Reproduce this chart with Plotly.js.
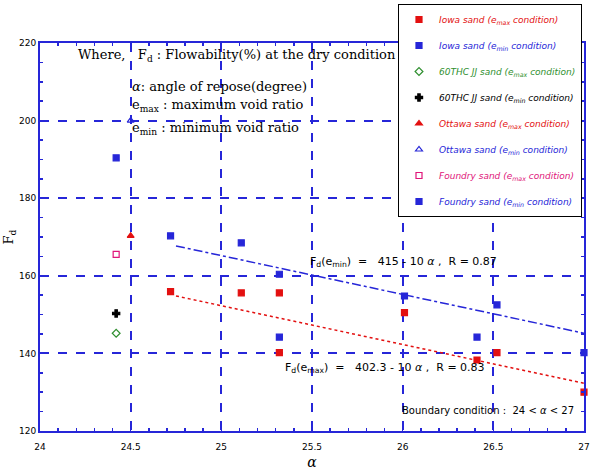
<!DOCTYPE html>
<html><head><meta charset="utf-8">
<script src="https://cdn.plot.ly/plotly-3.0.1.min.js"></script>
<style>body{margin:0;background:#fff}#c{width:595px;height:471px}</style>
</head><body><div id="c"></div>
<script>
// Data
const iowaMaxX = [24.72, 25.11, 25.32, 25.32, 26.01, 26.41, 26.52, 27.0];
const iowaMaxY = [155.9, 155.6, 155.6, 140.2, 150.5, 138.3, 140.2, 130.0];
const iowaMinX = [24.72, 25.11, 25.32, 25.32, 26.01, 26.41, 26.52, 27.0];
const iowaMinY = [170.3, 168.5, 160.4, 144.2, 154.8, 144.2, 152.5, 140.2];
const thcMaxX = [24.42], thcMaxY = [145.2];
const thcMinX = [24.42], thcMinY = [150.3];
const ottMaxX = [24.5], ottMaxY = [170.3];
const ottMinX = [24.5], ottMinY = [200.0];
const fndMaxX = [24.42], fndMaxY = [165.5];
const fndMinX = [24.42], fndMinY = [190.4];
// Fitted lines: [intercept, slope], drawn over fitRange
const fitMax = [402.3, -10];
const fitMin = [415.2, -10];
const fitRange = [24.75, 27.0];
const xTicks = [24, 24.5, 25, 25.5, 26, 26.5, 27];
const yTicks = [120, 140, 160, 180, 200, 220];

const RED = '#e31010', BLUE = '#2626d8', GREEN = '#2f8f2f', PINK = '#e0157a', BLK = '#000';
function nm(t, c) { return '<span style="color:' + c + '"><i>' + t + '</i></span>'; }
const traces = [];
function pts(x, y, name, sym, col, sz, g) {
  traces.push({x: x, y: y, type: 'scatter', mode: 'markers', name: nm(name, col), legendgroup: g,
    marker: {symbol: sym, color: col, size: sz, line: {color: col, width: 1.2}}, cliponaxis: false});
}
pts(iowaMaxX, iowaMaxY, 'Iowa sand (e<sub>max</sub> condition)', 'square', RED, 6, 'a');
pts(iowaMinX, iowaMinY, 'Iowa sand (e<sub>min</sub> condition)', 'square', BLUE, 6, 'b');
pts(thcMaxX, thcMaxY, '60THC JJ sand (e<sub>max</sub> condition)', 'diamond-open', GREEN, 6, 'c');
pts(thcMinX, thcMinY, '60THC JJ sand (e<sub>min</sub> condition)', 'cross', BLK, 6, 'd');
pts(ottMaxX, ottMaxY, 'Ottawa sand (e<sub>max</sub> condition)', 'triangle-up', RED, 6, 'e');
pts(ottMinX, ottMinY, 'Ottawa sand (e<sub>min</sub> condition)', 'triangle-up-open', BLUE, 6, 'f');
pts(fndMaxX, fndMaxY, 'Foundry sand (e<sub>max</sub> condition)', 'square-open', PINK, 6, 'g');
pts(fndMinX, fndMinY, 'Foundry sand (e<sub>min</sub> condition)', 'square', BLUE, 6, 'h');
traces.push({x: fitRange, y: fitRange.map(v => fitMax[0] + fitMax[1] * v), type: 'scatter', mode: 'lines',
  showlegend: false, line: {color: RED, dash: 'dot', width: 1.5}});
traces.push({x: fitRange, y: fitRange.map(v => fitMin[0] + fitMin[1] * v), type: 'scatter', mode: 'lines',
  showlegend: false, line: {color: BLUE, dash: 'dashdot', width: 1.5}});

const serif = 'DejaVu Serif, serif';
const sans = 'DejaVu Sans, sans-serif';
const ann = (x, y, t, sz, fam, xa) => ({xref: 'paper', yref: 'paper', x: x, y: y, text: t, showarrow: false,
  xanchor: xa || 'left', yanchor: 'middle', font: {family: fam, size: sz, color: '#000'}});
const W = 544, H = 388, L = 40, T = 43;
const px = (p) => (p - L) / W, py = (p) => 1 - (p - T) / H;
const axBase = {showgrid: true, gridcolor: BLUE, griddash: 'dash', gridwidth: 2, zeroline: false,
  showline: true, linecolor: BLUE, linewidth: 2, mirror: 'allticks',
  ticks: 'inside', ticklen: 4, tickcolor: BLUE, tickwidth: 1.5,
  tickfont: {size: 9, family: sans, color: '#000'}};

const layout = {
  width: 595, height: 471, margin: {l: 40, r: 11, t: 43, b: 40, autoexpand: false},
  paper_bgcolor: '#fff', plot_bgcolor: '#fff', showlegend: true,
  font: {family: serif, color: '#000'},
  xaxis: Object.assign({}, axBase, {range: [24, 27], tickvals: xTicks, ticktext: xTicks.map(String),
    ticklabelstandoff: 6,
    minor: {dtick: 0.1, ticks: 'inside', ticklen: 3, tickcolor: BLUE, showgrid: false},
    title: {text: '<i>α</i>', font: {size: 14, family: serif}, standoff: 6}}),
  yaxis: Object.assign({}, axBase, {range: [120, 220], tickvals: yTicks, ticktext: yTicks.map(String),
    minor: {dtick: 5, ticks: 'inside', ticklen: 3, tickcolor: BLUE, showgrid: false},
    title: {text: 'F<sub>d</sub>', font: {size: 13, family: serif}, standoff: 2}}),
  legend: {x: px(398), y: py(4), xanchor: 'left', yanchor: 'top', bgcolor: '#fff',
    bordercolor: '#000', borderwidth: 1, traceorder: 'grouped', tracegroupgap: 7,
    font: {size: 9, family: sans}, itemsizing: 'trace'},
  annotations: [
    ann(px(76), py(55), 'Where,   F<sub>d</sub> : Flowability(%) at the dry condition', 13, serif),
    ann(px(130), py(86), '<i>α</i>: angle of repose(degree)', 13, serif),
    ann(px(130), py(105), 'e<sub>max</sub> : maximum void ratio', 13, serif),
    ann(px(130), py(128), 'e<sub>min</sub> : minimum void ratio', 13, serif),
    ann(px(308), py(262), 'F<sub>d</sub>(e<sub>min</sub>)  =   415 - 10 <i>α</i> ,  R = 0.87', 11, sans),
    ann(px(283), py(368), 'F<sub>d</sub>(e<sub>max</sub>)  =   402.3 - 10 <i>α</i> ,  R = 0.83', 11, sans),
    ann(px(576), py(410), 'Boundary condition :  24 &lt; <i>α</i> &lt; 27', 10, sans, 'right')
  ]
};
Plotly.newPlot('c', traces, layout, {displayModeBar: false, staticPlot: true});
</script></body></html>
